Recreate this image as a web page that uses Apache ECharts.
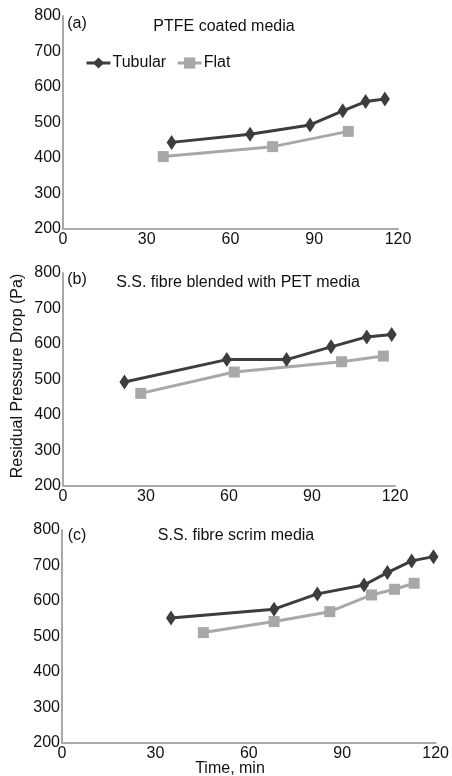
<!DOCTYPE html>
<html>
<head>
<meta charset="utf-8">
<script src="https://cdn.jsdelivr.net/npm/echarts@6/dist/echarts.min.js"></script>
<style>html,body{margin:0;padding:0;background:#fff}#c{width:452px;height:776px}</style>
</head>
<body>
<div id="c"></div>
<script>
// Panel (a) PTFE coated media
const aTubularX = [38.9, 67.0, 88.5, 100.2, 108.4, 115.3];
const aTubularY = [444, 467, 493, 533, 559, 566];
const aFlatX = [35.9, 75.1, 102.2];
const aFlatY = [404, 432, 475];
// Panel (b) S.S. fibre blended with PET media
const bTubularX = [22.2, 59.2, 80.8, 96.9, 109.8, 118.8];
const bTubularY = [493, 556, 556, 592, 620, 627];
const bFlatX = [28.1, 61.9, 100.7, 115.8];
const bFlatY = [461, 521, 550, 566];
// Panel (c) S.S. fibre scrim media
const cTubularX = [35.0, 68.1, 82.0, 97.0, 104.5, 112.3, 119.3];
const cTubularY = [552, 577, 620, 645, 680, 713, 725];
const cFlatX = [45.4, 68.1, 86.0, 99.4, 106.8, 113.1];
const cFlatY = [511, 542, 570, 617, 633, 650];

const panelLetters = ['(a)', '(b)', '(c)'];
const panelTitles = ['PTFE coated media', 'S.S. fibre blended with PET media', 'S.S. fibre scrim media'];
const seriesNames = ['Tubular', 'Flat'];
const xTicks = [0, 30, 60, 90, 120];
const yTicks = [200, 300, 400, 500, 600, 700, 800];
const yName = 'Residual Pressure Drop (Pa)';
const xName = 'Time, min';

const FONT = 'Liberation Sans, Arial, sans-serif';
const DARK = '#3d3d3d';
const LIGHT = '#a8a8a8';

const zip = (xs, ys) => xs.map((x, i) => [x, ys[i]]);
const panels = [
  [zip(aTubularX, aTubularY), zip(aFlatX, aFlatY)],
  [zip(bTubularX, bTubularY), zip(bFlatX, bFlatY)],
  [zip(cTubularX, cTubularY), zip(cFlatX, cFlatY)]
];

const grids = [
  {left: 63, top: 16, right: 54, bottom: 547},
  {left: 63, top: 273, right: 57, bottom: 290},
  {left: 62, top: 530, right: 12, bottom: 33}
];

const axisLine = {show: true, lineStyle: {color: '#a9a9a9', width: 2}};
const labelStyle = {color: '#111', fontSize: 16, fontFamily: FONT};

const xAxes = grids.map((g, i) => ({
  type: 'value', gridIndex: i, min: xTicks[0], max: xTicks[xTicks.length - 1], interval: 30,
  axisLine: axisLine, axisTick: {show: false}, splitLine: {show: false},
  axisLabel: Object.assign({margin: 3}, labelStyle)
}));
const yAxes = grids.map((g, i) => ({
  type: 'value', gridIndex: i, min: yTicks[0], max: yTicks[yTicks.length - 1], interval: 100,
  axisLine: axisLine, axisTick: {show: false}, splitLine: {show: false},
  axisLabel: Object.assign({margin: 2}, labelStyle)
}));

const series = [];
panels.forEach((p, i) => {
  series.push({
    name: seriesNames[0], type: 'line', xAxisIndex: i, yAxisIndex: i, data: p[0],
    symbol: 'diamond', symbolSize: [10, 15], showSymbol: true,
    lineStyle: {color: DARK, width: 3}, itemStyle: {color: DARK}, z: 3
  });
  series.push({
    name: seriesNames[1], type: 'line', xAxisIndex: i, yAxisIndex: i, data: p[1],
    symbol: 'rect', symbolSize: 11, showSymbol: true,
    lineStyle: {color: LIGHT, width: 3}, itemStyle: {color: LIGHT}, z: 2
  });
});

const letterPos = [[77, 24], [77, 280], [77, 536]];
const titlePos = [[224, 27], [238, 283], [236, 536]];
const graphics = [];
letterPos.forEach((pos, i) => {
  graphics.push({type: 'text', x: pos[0], y: pos[1], style: {text: panelLetters[i], fill: '#111', font: '16px ' + FONT, align: 'center', verticalAlign: 'middle'}});
  graphics.push({type: 'text', x: titlePos[i][0], y: titlePos[i][1], style: {text: panelTitles[i], fill: '#111', font: '16px ' + FONT, align: 'center', verticalAlign: 'middle'}});
});
graphics.push({type: 'text', x: 18, y: 376, rotation: Math.PI / 2, style: {text: yName, fill: '#111', font: '16px ' + FONT, align: 'center', verticalAlign: 'middle'}});
graphics.push({type: 'text', x: 230, y: 769, style: {text: xName, fill: '#111', font: '16px ' + FONT, align: 'center', verticalAlign: 'middle'}});

const chart = echarts.init(document.getElementById('c'), null, {renderer: 'canvas'});
chart.setOption({
  animation: false,
  backgroundColor: '#fff',
  grid: grids,
  xAxis: xAxes,
  yAxis: yAxes,
  legend: {
    data: seriesNames, left: 85, top: 55, padding: 0, itemWidth: 24, itemHeight: 14, itemGap: 10,
    lineStyle: {width: 3},
    textStyle: {color: '#111', fontSize: 16, fontFamily: FONT, padding: [0, 0, 0, -3]}
  },
  graphic: graphics,
  series: series
});
</script>
</body>
</html>
